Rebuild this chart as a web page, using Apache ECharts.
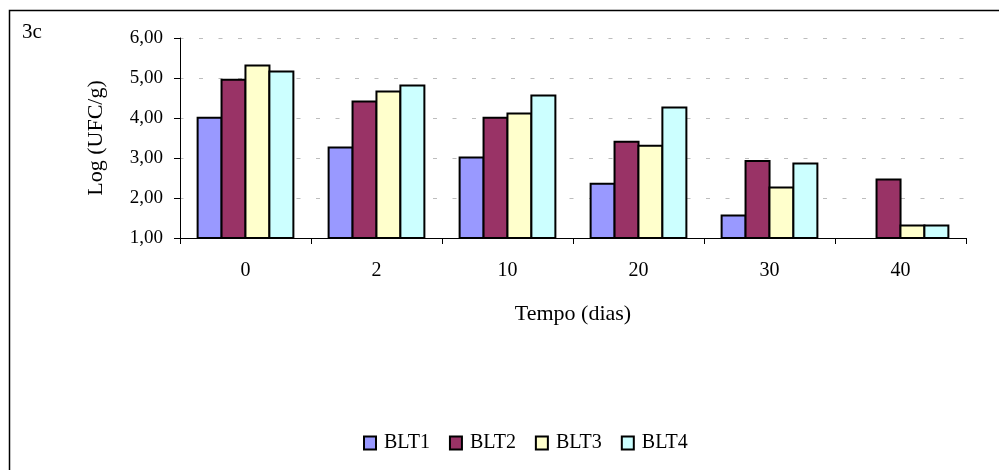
<!DOCTYPE html>
<html>
<head>
<meta charset="utf-8">
<script src="https://cdn.jsdelivr.net/npm/echarts@6/dist/echarts.min.js"></script>
<style>
html,body{margin:0;padding:0;background:#fff;}
#c{width:999px;height:470px;}
</style>
</head>
<body>
<div id="c"></div>
<script>
var categories = ['0', '2', '10', '20', '30', '40'];
var seriesNames = ['BLT1', 'BLT2', 'BLT3', 'BLT4'];
var blt1 = [4.03, 3.29, 3.04, 2.38, 1.59, null];
var blt2 = [4.98, 4.44, 4.03, 3.43, 2.95, 2.49];
var blt3 = [5.34, 4.69, 4.14, 3.33, 2.29, 1.34];
var blt4 = [5.19, 4.84, 4.59, 4.29, 2.89, 1.34];
var yTicks = [1, 2, 3, 4, 5, 6];
var colors = ['#9999ff', '#993366', '#ffffcc', '#ccffff'];

var FONT = '"Liberation Serif", "Times New Roman", serif';
var chart = echarts.init(document.getElementById('c'), null, {renderer: 'canvas'});
var values = [blt1, blt2, blt3, blt4];

chart.setOption({
  animation: false,
  backgroundColor: '#ffffff',
  title: {
    text: '3c', left: 17, top: 17,
    textStyle: {fontFamily: FONT, fontSize: 21, fontWeight: 'normal', color: '#000'}
  },
  graphic: [{
    type: 'polyline',
    shape: {points: [[9.5, 470], [9.5, 10.5], [999, 10.5]]},
    style: {stroke: '#000', lineWidth: 1.5, fill: null},
    silent: true
  }],
  legend: {
    data: seriesNames,
    left: 358, top: 428,
    itemWidth: 12, itemHeight: 13, itemGap: 19,
    icon: 'rect',
    textStyle: {fontFamily: FONT, fontSize: 20, color: '#000', padding: [0, 0, 0, 3]}
  },
  grid: {left: 180, right: 33, top: 38, bottom: 232, containLabel: false},
  xAxis: {
    type: 'category',
    data: categories,
    name: 'Tempo (dias)',
    nameLocation: 'middle',
    nameGap: 65,
    nameTextStyle: {fontFamily: FONT, fontSize: 22, color: '#000'},
    axisLine: {lineStyle: {color: '#000', width: 1}},
    axisTick: {show: true, length: 6, inside: false, alignWithLabel: false, lineStyle: {color: '#000'}},
    axisLabel: {fontFamily: FONT, fontSize: 20, color: '#000', margin: 23},
    splitLine: {show: false}
  },
  yAxis: {
    type: 'value',
    min: yTicks[0], max: yTicks[yTicks.length - 1], interval: 1,
    name: 'Log (UFC/g)',
    nameLocation: 'middle',
    nameGap: 73,
    nameRotate: 90,
    nameTextStyle: {fontFamily: FONT, fontSize: 22, color: '#000'},
    axisLine: {show: true, lineStyle: {color: '#000', width: 1}},
    axisTick: {show: true, length: 6, inside: false, lineStyle: {color: '#000'}},
    axisLabel: {
      fontFamily: FONT, fontSize: 19, color: '#000', margin: 17,
      formatter: function (v) { return v.toFixed(2).replace('.', ','); }
    },
    splitLine: {show: true, lineStyle: {color: '#bdbdbd', width: 1, type: [4, 15.5], dashOffset: 0.5}}
  },
  series: seriesNames.map(function (n, i) {
    return {
      name: n,
      type: 'bar',
      data: values[i],
      barWidth: 26,
      barGap: '-8%',
      itemStyle: {color: colors[i], borderColor: '#000', borderWidth: 2}
    };
  })
});
</script>
</body>
</html>
